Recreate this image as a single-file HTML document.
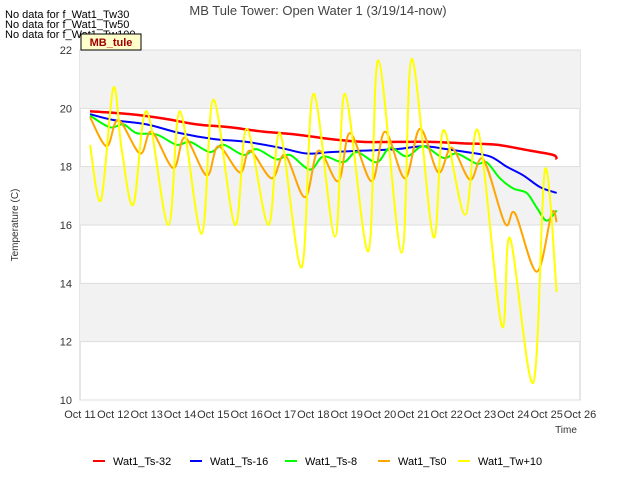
<!DOCTYPE html>
<html><head><meta charset="utf-8"><style>
body{margin:0;background:#fff;font-family:"Liberation Sans",sans-serif}
svg text{font-family:"Liberation Sans",sans-serif}
</style></head><body>
<svg id="chart" width="640" height="480" xmlns="http://www.w3.org/2000/svg">
<rect width="640" height="480" fill="#fff"/>
<g id="bands"></g><g id="grid"></g><g id="axes"></g><g id="series"></g>
<text x="318" y="15" text-anchor="middle" font-size="13" fill="#444">MB Tule Tower: Open Water 1 (3/19/14-now)</text>
<text x="5" y="18" font-size="11">No data for f_Wat1_Tw30</text>
<text x="5" y="28" font-size="11">No data for f_Wat1_Tw50</text>
<text x="5" y="38" font-size="11">No data for f_Wat1_Tw100</text>
<rect x="81" y="34" width="60" height="16" fill="#ffffcc" stroke="#000" stroke-width="1"/>
<text x="111" y="46" text-anchor="middle" font-size="11" font-weight="bold" fill="#a00000">MB_tule</text>
<text x="18" y="225" transform="rotate(-90 18 225)" text-anchor="middle" font-size="10" fill="#333">Temperature (C)</text>
<text x="566" y="433" text-anchor="middle" font-size="10" fill="#333">Time</text>
<g id="legend"></g>
</svg>
<script>
const xTicks=["Oct 11","Oct 12","Oct 13","Oct 14","Oct 15","Oct 16","Oct 17","Oct 18","Oct 19","Oct 20","Oct 21","Oct 22","Oct 23","Oct 24","Oct 25","Oct 26"];
const yTicks=[10,12,14,16,18,20,22];
const seriesNames=["Wat1_Ts-32","Wat1_Ts-16","Wat1_Ts-8","Wat1_Ts0","Wat1_Tw+10"];
const seriesColors=["#ff0000","#0000ff","#00ff00","#ffa500","#ffff00"];
const tsM32=[[11.3,19.9],[12.5,19.8],[13.5,19.65],[14.5,19.45],[15.5,19.35],[16.5,19.2],[17.5,19.1],[18.5,18.95],[19.5,18.85],[20.5,18.85],[21.5,18.85],[22.5,18.8],[23.5,18.75],[24.5,18.55],[25.2,18.4],[25.3,18.25]];
const tsM16=[[11.3,19.8],[12,19.6],[13,19.45],[14,19.15],[15,18.95],[16,18.85],[17,18.65],[17.8,18.45],[18.5,18.5],[19.5,18.55],[20.5,18.6],[21.3,18.7],[22,18.6],[22.6,18.5],[23.3,18.35],[23.8,18.0],[24.3,17.7],[24.8,17.3],[25.3,17.1]];
const tsM8=[[11.3,19.75],[11.9,19.35],[12.3,19.45],[12.7,19.15],[13.3,19.1],[13.9,18.75],[14.3,18.85],[14.9,18.5],[15.3,18.75],[15.9,18.4],[16.3,18.6],[16.9,18.25],[17.3,18.4],[17.9,17.9],[18.3,18.35],[18.9,18.15],[19.3,18.5],[19.9,18.15],[20.3,18.65],[20.8,18.35],[21.3,18.7],[21.9,18.3],[22.3,18.45],[22.9,18.1],[23.2,18.15],[23.6,17.6],[24,17.25],[24.4,17.1],[24.7,16.6],[25,16.15],[25.3,16.5]];
const ts0=[[11.3,19.7],[11.8,18.7],[12.15,19.6],[12.8,18.45],[13.15,19.2],[13.8,17.95],[14.15,19.0],[14.8,17.7],[15.15,18.7],[15.8,17.8],[16.1,18.55],[16.75,17.6],[17.15,18.4],[17.75,16.95],[18.15,18.55],[18.75,17.5],[19.1,19.15],[19.75,17.5],[20.15,19.2],[20.75,17.6],[21.2,19.3],[21.75,17.8],[22.15,18.65],[22.7,17.55],[23.1,18.25],[23.75,16.05],[24.05,16.4],[24.7,14.4],[25.15,16.4],[25.3,16.1]];
const twP10=[[11.3,18.75],[11.63,16.85],[12,20.7],[12.25,18.6],[12.6,16.7],[13,19.9],[13.65,16.0],[14,19.9],[14.65,15.7],[15,20.3],[15.65,16.0],[16,19.3],[16.65,16.0],[17,19.15],[17.65,14.55],[18,20.5],[18.65,15.6],[18.95,20.5],[19.65,15.1],[19.95,21.65],[20.65,15.05],[20.95,21.7],[21.6,15.6],[21.9,19.25],[22.55,16.35],[22.95,19.2],[23.65,12.55],[23.9,15.55],[24.6,10.6],[24.95,17.9],[25.3,13.7]];
const allSeries=[tsM32,tsM16,tsM8,ts0,twP10];
const X0=80,X1=580,Y0=400,Y1=50;
const xs=d=>X0+(d-11)*(X1-X0)/15;
const ys=v=>Y0-(v-10)*(Y0-Y1)/12;
const NS="http://www.w3.org/2000/svg";
function mk(t,p,a){const e=document.createElementNS(NS,t);for(const k in a)e.setAttribute(k,a[k]);p.appendChild(e);return e;}
const bands=document.getElementById('bands'),grid=document.getElementById('grid'),axes=document.getElementById('axes'),ser=document.getElementById('series'),leg=document.getElementById('legend');
mk('rect',bands,{x:X0,y:Y1,width:X1-X0,height:Y0-Y1,fill:'#fff',stroke:'#ccc'});
for(let i=0;i<yTicks.length-1;i++){if(i%2===1){const b=mk('rect',bands,{x:X0,y:ys(yTicks[i+1]),width:X1-X0,height:ys(yTicks[i])-ys(yTicks[i+1]),fill:'#f2f2f2'});

}}
yTicks.forEach(v=>{const l=mk('line',grid,{x1:X0,x2:X1,y1:ys(v),y2:ys(v),stroke:'#ddd'});


const t=mk('text',axes,{x:X0-8,y:ys(v)+4,'text-anchor':'end','font-size':11,fill:'#333'});t.textContent=v;

});
xTicks.forEach((s,i)=>{const t=mk('text',axes,{x:xs(11+i),y:Y0+18,'text-anchor':'middle','font-size':11,fill:'#333'});t.textContent=s;

});
function smooth(pts){let d='M'+pts[0][0]+','+pts[0][1];for(let i=0;i<pts.length-1;i++){const p0=pts[i-1]||pts[i],p1=pts[i],p2=pts[i+1],p3=pts[i+2]||p2;
d+=` C${p1[0]+(p2[0]-p0[0])/6},${p1[1]+(p2[1]-p0[1])/6} ${p2[0]-(p3[0]-p1[0])/6},${p2[1]-(p3[1]-p1[1])/6} ${p2[0]},${p2[1]}`;}return d;}
allSeries.forEach((s,i)=>{const pts=s.map(p=>[xs(p[0]),ys(p[1])]);
const p=mk('path',ser,{d:smooth(pts),fill:'none',stroke:seriesColors[i],'stroke-width':i===0?2.5:2});

});
const lx=[93,190,285,378,458];
seriesNames.forEach((n,i)=>{const g=mk('g',leg,{});


mk('line',g,{x1:lx[i],x2:lx[i]+12,y1:461,y2:461,stroke:seriesColors[i],'stroke-width':2});
const t=mk('text',g,{x:lx[i]+20,y:465,'font-size':11,fill:'#000'});t.textContent=n;});
</script>
</body></html>
